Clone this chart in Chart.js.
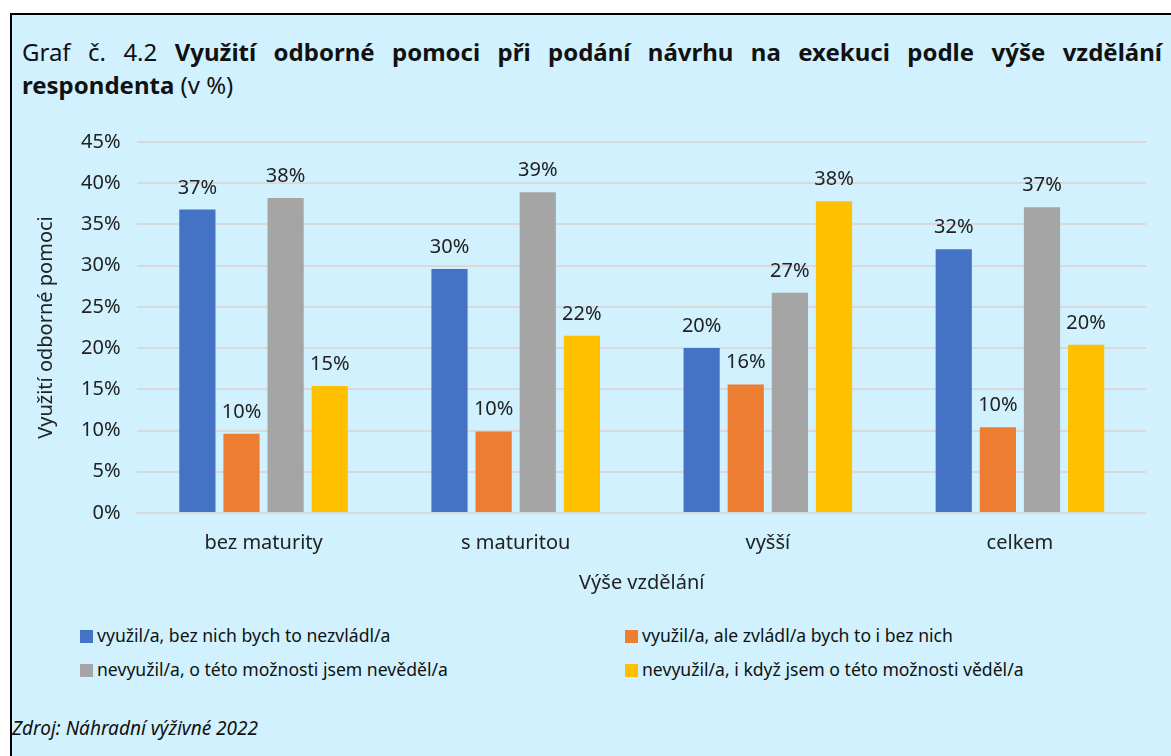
<!DOCTYPE html>
<html>
<head>
<meta charset="utf-8">
<script src="https://cdn.jsdelivr.net/npm/chart.js@4"></script>
<style>
  body { margin: 0; background: #fff; font-family: "Noto Sans", sans-serif; color: #111; }
  #box { position: absolute; left: 10px; top: 13px; width: 1161px; height: 743px;
         background: #d0f1fd; border-top: 2px solid #000; border-left: 2px solid #000; box-sizing: border-box; }
  #title { position: absolute; left: 10px; top: 20px; width: 1140px; font-size: 24px; line-height: 33px;
           text-align: justify; }
  #wrap { position: absolute; left: 0px; top: 98px; width: 1134px; height: 486px; }
  #legend { position: absolute; left: 68px; top: 608px; width: 1100px; font-size: 17.6px; }
  .item { position: absolute; white-space: nowrap; }
  .item span.sw { display: inline-block; width: 13px; height: 13px; margin-right: 4px; vertical-align: -1px; }
  #src { position: absolute; left: 0px; top: 700px; font-size: 19px; font-style: italic; }
</style>
</head>
<body>
<div id="box">
  <div id="title">Graf č. 4.2 <b>Využití odborné pomoci při podání návrhu na exekuci podle výše vzdělání respondenta</b> (v %)</div>
  <div id="wrap"><canvas id="graf"></canvas></div>
  <div id="legend"></div>
  <div id="src">Zdroj: Náhradní výživné 2022</div>
</div>
<script>
// kategorie na ose x
const kategorie = ["bez maturity", "s maturitou", "vyšší", "celkem"]
// hodnoty v %
const vyuzilBezNich = [36.8, 29.6, 20.0, 32.0]
const vyuzilZvladl = [9.6, 9.9, 15.6, 10.4]
const nevyuzilNevedel = [38.2, 38.9, 26.7, 37.1]
const nevyuzilVedel = [15.4, 21.5, 37.8, 20.4]
const nazvyRad = [
  "využil/a, bez nich bych to nezvládl/a",
  "využil/a, ale zvládl/a bych to i bez nich",
  "nevyužil/a, o této možnosti jsem nevěděl/a",
  "nevyužil/a, i když jsem o této možnosti věděl/a"
]
const barvy = ["#4472c4", "#ed7d31", "#a5a5a5", "#ffc000"]

const rady = [vyuzilBezNich, vyuzilZvladl, nevyuzilNevedel, nevyuzilVedel]

// popisky nad sloupci
const popisky = {
  id: "popisky",
  afterDatasetsDraw(chart) {
    const ctx = chart.ctx
    ctx.save()
    ctx.font = '20px "Noto Sans"'
    ctx.fillStyle = "#222"
    ctx.textAlign = "center"
    ctx.textBaseline = "alphabetic"
    chart.data.datasets.forEach((ds, i) => {
      chart.getDatasetMeta(i).data.forEach((bar, j) => {
        ctx.fillText(Math.round(ds.data[j]) + "%", bar.x, bar.y - 16)
      })
    })
    ctx.restore()
  }
}

const pismo = { family: "Noto Sans", size: 20 }

new Chart("graf", {
  type: "bar",
  data: {
    labels: kategorie,
    datasets: rady.map((r, i) => ({
      label: nazvyRad[i],
      data: r,
      backgroundColor: barvy[i],
      categoryPercentage: 0.7,
      barPercentage: 0.82
    }))
  },
  options: {
    responsive: true,
    maintainAspectRatio: false,
    animation: false,
    layout: { padding: { left: 18, right: 0, top: 10, bottom: 0 } },
    plugins: { legend: { display: false }, tooltip: { enabled: false } },
    scales: {
      x: {
        grid: { display: false },
        border: { color: "#d9d9d9", width: 2 },
        ticks: { color: "#222", font: pismo, padding: 10 },
        title: { display: true, text: "Výše vzdělání", color: "#222", font: pismo, padding: { top: 6 } }
      },
      y: {
        min: 0, max: 45,
        ticks: { stepSize: 5, color: "#222", font: pismo, padding: 17, callback: v => v + "%" },
        grid: { color: "#d9d9d9", lineWidth: 2, drawTicks: false },
        border: { display: false },
        title: { display: true, text: "Využití odborné pomoci", color: "#222", font: pismo, padding: { bottom: 6 } }
      }
    }
  },
  plugins: [popisky]
})

// legenda ve dvou sloupcich
const leg = document.getElementById("legend")
nazvyRad.forEach((n, i) => {
  const d = document.createElement("div")
  d.className = "item"
  d.style.left = (i % 2 ? 545 : 0) + "px"
  d.style.top = (Math.floor(i / 2) * 34) + "px"
  d.innerHTML = '<span class="sw" style="background:' + barvy[i] + '"></span>' + n
  leg.appendChild(d)
})
</script>
</body>
</html>
